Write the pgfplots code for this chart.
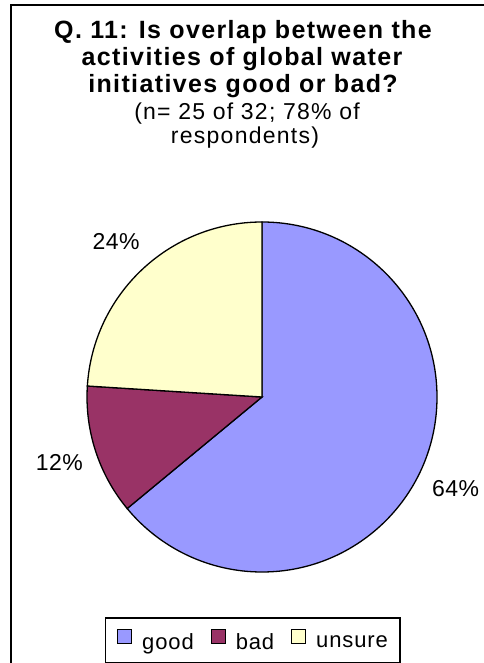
\documentclass[border=0pt]{standalone}
\usepackage{fontspec}
\setmainfont{Liberation Sans}
\newfontfamily\titlefont[LetterSpace=5.5]{Liberation Sans}
\newfontfamily\subfont[LetterSpace=5.5]{Liberation Sans}
\newfontfamily\lblfont[LetterSpace=2]{Liberation Sans}
\newfontfamily\legfont[LetterSpace=4]{Liberation Sans}
\usepackage{pgfplots}
\pgfplotsset{compat=1.18}
\usepackage{pgfplotstable}
\definecolor{cgood}{HTML}{9999FF}
\definecolor{cbad}{HTML}{993366}
\definecolor{cunsure}{HTML}{FFFFCC}

\pgfplotstableread{
label value
good 64
bad 12
unsure 24
}\piedata

\begin{document}
\begin{tikzpicture}
\pgfplotstablegetelem{0}{value}\of\piedata \pgfmathtruncatemacro\vA{\pgfplotsretval}
\pgfplotstablegetelem{1}{value}\of\piedata \pgfmathtruncatemacro\vB{\pgfplotsretval}
\pgfplotstablegetelem{2}{value}\of\piedata \pgfmathtruncatemacro\vC{\pgfplotsretval}
\pgfmathsetmacro\aA{90}
\pgfmathsetmacro\aB{\aA-3.6*\vA}
\pgfmathsetmacro\aC{\aB-3.6*\vB}
\pgfmathsetmacro\aD{\aC-3.6*\vC}
\pgfmathsetmacro\mA{(\aA+\aB)/2}
\pgfmathsetmacro\mB{(\aB+\aC)/2}
\pgfmathsetmacro\mC{(\aC+\aD)/2}
\begin{axis}[
  at={(0,0)}, anchor=south west,
  x=175bp, y=175bp,
  xmin=-1.49714, xmax=1.26857, ymin=-1.52, ymax=2.26857,
  hide axis, clip=false,
  legend columns=3,
  legend image code/.code={\draw[#1, line width=1bp] (0bp,-1.5bp) rectangle (14bp,13bp);},
  legend style={at={(axis cs:-0.054,-1.389)}, anchor=center,
    draw=black, line width=1.2bp, inner xsep=12bp, inner ysep=11bp,
    font=\fontsize{22bp}{24bp}\legfont,
    nodes={inner sep=0pt},
    /tikz/every odd column/.append style={column sep=10bp},
    /tikz/every even column/.append style={column sep=17bp}},
]
\addlegendimage{fill=cgood, draw=black}
\addlegendentry{good}
\addlegendimage{fill=cbad, draw=black}
\addlegendentry{bad}
\addlegendimage{fill=cunsure, draw=black}
\addlegendentry{unsure}
\filldraw[fill=cgood, draw=black, line width=1.3bp] (axis cs:0,0) -- ++(\aA:175bp) arc[start angle=\aA, end angle=\aB, radius=175bp] -- cycle;
\filldraw[fill=cbad, draw=black, line width=1.3bp] (axis cs:0,0) -- ++(\aB:175bp) arc[start angle=\aB, end angle=\aC, radius=175bp] -- cycle;
\filldraw[fill=cunsure, draw=black, line width=1.3bp] (axis cs:0,0) -- ++(\aC:175bp) arc[start angle=\aC, end angle=\aD, radius=175bp] -- cycle;
\path (axis cs:0,0) ++(\mA:214bp) node[font=\fontsize{23bp}{26bp}\lblfont] {\vA\%};
\path (axis cs:0,0) ++(\mB:213bp) node[font=\fontsize{23bp}{26bp}\lblfont] {\vB\%};
\path (axis cs:0,0) ++(\mC:213bp) node[font=\fontsize{23bp}{26bp}\lblfont] {\vC\%};
\end{axis}
\node[anchor=base, font=\fontsize{25bp}{28bp}\titlefont\bfseries] at (243bp,624bp) {Q. 11: Is overlap between the};
\node[anchor=base, font=\fontsize{25bp}{28bp}\titlefont\bfseries] at (242bp,597bp) {activities of global water};
\node[anchor=base, font=\fontsize{25bp}{28bp}\titlefont\bfseries] at (243bp,570bp) {initiatives good or bad?};
\node[anchor=base, font=\fontsize{23bp}{26bp}\subfont] at (247bp,543bp) {(n= 25 of 32; 78\% of};
\node[anchor=base, font=\fontsize{23bp}{26bp}\subfont] at (245bp,519bp) {respondents)};
\draw[line width=1.5bp] (11bp,-5bp) -- (11bp,658bp) -- (500bp,658bp);
\pgfresetboundingbox
\path[use as bounding box] (0,0) rectangle (484bp,663bp);
\end{tikzpicture}
\end{document}
